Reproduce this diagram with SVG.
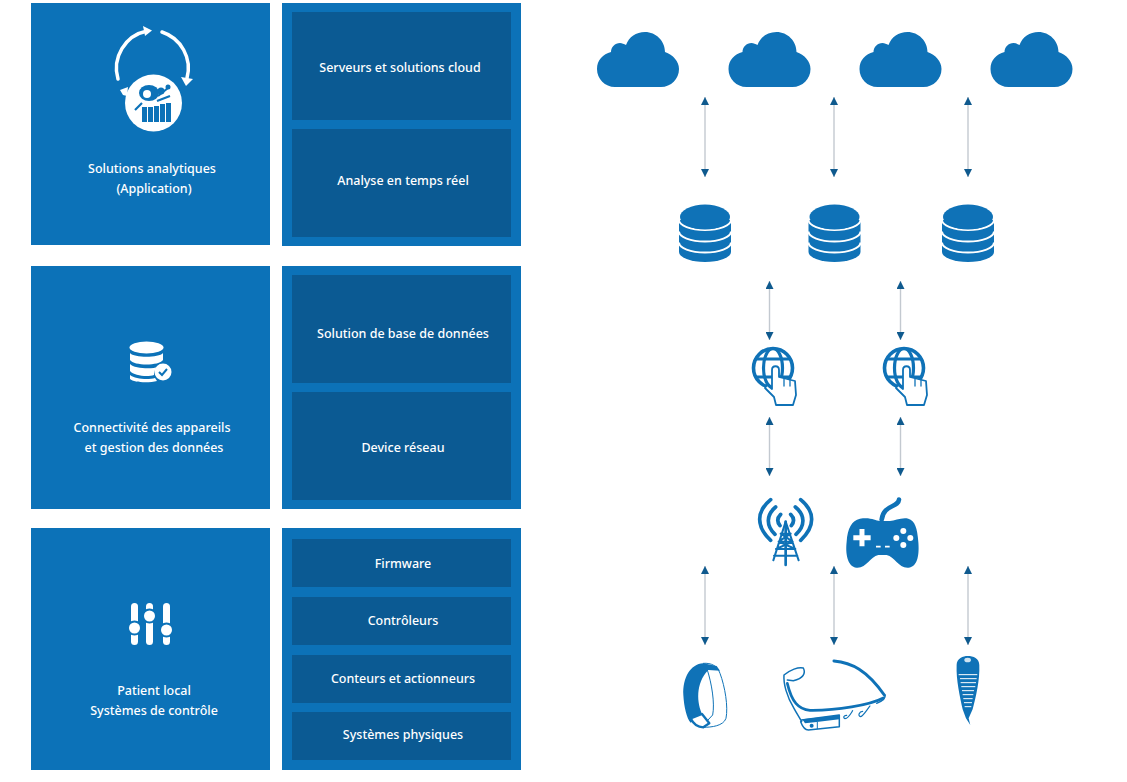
<svg xmlns="http://www.w3.org/2000/svg" width="1127" height="782" viewBox="0 0 1127 782">
<style>
.p{fill:#0c72b8}.i{fill:#0b5a93}
text{font-family:"Noto Sans","Liberation Sans",sans-serif;font-size:12.5px;font-weight:500;fill:#fff;text-anchor:middle}
.c line{stroke:#c3c9d0;stroke-width:1.4;marker-start:url(#ah);marker-end:url(#ah)}
.b{fill:#0f72b7}.o{fill:none;stroke:#0f72b7;stroke-linecap:round;stroke-linejoin:round}.w{fill:none;stroke:#fff;stroke-linecap:round}
</style>
<defs>
<marker id="ah" markerUnits="userSpaceOnUse" markerWidth="8" markerHeight="8" refX="8" refY="4" orient="auto-start-reverse"><path d="M0 0L8 4L0 8Z" fill="#0f5a8e"/></marker>
<path id="cloud" class="b" d="M18 55C8 55 0 47 0 37C0 28 6 22 14 20C14 15 18 11 23 11C25 11 27 12 29 13C32 5 39 0 48 0C59 0 68 9 68 20C76 23 82 29 82 37C82 47 74 55 64 55Z"/>
<g id="db">
<path class="b" d="M0 16V48A26 10 0 0 0 52 48V16Z"/>
<path d="M0 16A26 10 0 0 0 52 16M0 27.5A26 10 0 0 0 52 27.5M0 38.5A26 10 0 0 0 52 38.5" fill="none" stroke="#fff" stroke-width="2"/>
<ellipse class="b" cx="26" cy="13" rx="25" ry="12.5"/>
</g>
<g id="globe">
<circle class="o" cx="21" cy="21" r="19.5" stroke-width="3.600"/>
<ellipse class="o" cx="21" cy="21" rx="9.500" ry="19.500" stroke-width="3.200"/>
<path class="o" stroke-width="3.200" d="M4 12H38M4 30H38"/>
<path fill="#fff" stroke="#0f72b7" stroke-width="1.800" stroke-linejoin="round" d="M24 58L22 50L13 41L15 38L20 42V23C20 18 27 18 27 23V30L43 34L44 48L41 58Z"/>
<path class="o" stroke-width="1.300" d="M32 32V39M38 33V39"/>
</g>
</defs>

<g id="row1-left"><rect class="p" x="31" y="3" width="239" height="242"/>
<path class="w" stroke-width="3.500" d="M118 79A38 38 0 0 1 147 31"/><path fill="#fff" d="M152 30.500L143 26L145 36Z"/>
<path class="w" stroke-width="3.500" d="M162 32A38 38 0 0 1 187 78"/><path fill="#fff" d="M186 86L181 77L193 79Z"/>
<circle cx="153.500" cy="103" r="28.500" fill="#fff"/>
<path fill="#fff" d="M120 90L128 87L127 96L123 95Z"/>
<g class="p"><rect x="142" y="107" width="5" height="15"/><rect x="148" y="107" width="5" height="15"/><rect x="154" y="106" width="5" height="16"/><rect x="160" y="104" width="5" height="18"/><rect x="166" y="103" width="5" height="19"/>
<ellipse cx="149" cy="93" rx="10" ry="8"/><circle cx="161" cy="91" r="3.500"/><circle cx="168" cy="87" r="2.500"/></g>
<circle cx="147" cy="94" r="4" fill="#fff"/>
<path d="M158 96L168 88M135 110L142 103M157 101L170 96" stroke="#0c72b8" stroke-width="2.200" fill="none"/>
<text x="152" y="173">Solutions analytiques</text><text x="154" y="193">(Application)</text></g>

<g id="row1-right"><rect class="p" x="282" y="3" width="239" height="243"/><rect class="i" x="292" y="12" width="219" height="108"/><rect class="i" x="292" y="129" width="219" height="108"/>
<text x="400" y="72">Serveurs et solutions cloud</text><text x="403" y="185">Analyse en temps réel</text></g>

<g id="row2-left"><rect class="p" x="31" y="266" width="239" height="243"/>
<ellipse cx="146.500" cy="347.500" rx="17" ry="6" fill="#fff"/>
<path fill="#fff" d="M130 353C134 358 159 358 163 353V360C159 366 134 366 130 360ZM130 364C134 369 154 369 157 367C155 369 154 372 154 375C148 377 134 376 130 371ZM130 375C135 379 148 380 155 378L157 381C150 383 134 383 130 379Z"/>
<circle cx="163" cy="372" r="8.500" fill="#fff"/><path d="M159 372L162 375L167 369" fill="none" stroke="#0c72b8" stroke-width="2"/>
<text x="152" y="432">Connectivité des appareils</text><text x="154" y="452">et gestion des données</text></g>

<g id="row2-right"><rect class="p" x="282" y="266" width="239" height="243"/><rect class="i" x="292" y="275" width="219" height="108"/><rect class="i" x="292" y="392" width="219" height="108"/>
<text x="403" y="338">Solution de base de données</text><text x="403" y="452">Device réseau</text></g>

<g id="row3-left"><rect class="p" x="31" y="528" width="239" height="242"/>
<rect x="131" y="603" width="7" height="42" rx="3.500" fill="#fff"/><rect x="146" y="603" width="7" height="42" rx="3.500" fill="#fff"/><rect x="163" y="603" width="7" height="42" rx="3.500" fill="#fff"/>
<g fill="#fff" stroke="#0c72b8" stroke-width="2"><circle cx="134.500" cy="628" r="6.500"/><circle cx="149.500" cy="616" r="6.500"/><circle cx="166.500" cy="630" r="6.500"/></g>
<text x="154" y="695">Patient local</text><text x="154" y="715">Systèmes de contrôle</text></g>

<g id="row3-right"><rect class="p" x="282" y="528" width="239" height="242"/><rect class="i" x="292" y="539" width="219" height="48"/><rect class="i" x="292" y="597" width="219" height="48"/><rect class="i" x="292" y="655" width="219" height="48"/><rect class="i" x="292" y="712" width="219" height="48"/>
<text x="403" y="568">Firmware</text><text x="403" y="625">Contrôleurs</text><text x="403" y="683">Conteurs et actionneurs</text><text x="403" y="739">Systèmes physiques</text></g>

<g id="cloud1"><use href="#cloud" x="597" y="32"/></g><g id="cloud2"><use href="#cloud" x="728.500" y="32"/></g><g id="cloud3"><use href="#cloud" x="859.500" y="32"/></g><g id="cloud4"><use href="#cloud" x="990.500" y="32"/></g>
<g id="db1"><use href="#db" x="679" y="204"/></g><g id="db2"><use href="#db" x="808.500" y="204"/></g><g id="db3"><use href="#db" x="942" y="204"/></g>
<g id="globe1"><use href="#globe" x="752" y="347"/></g><g id="globe2"><use href="#globe" x="883" y="347"/></g>

<g id="tower"><g transform="translate(740 485) scale(.3333)">
<path class="o" stroke-width="11" d="M92 44C48 80 48 125 92 166M182 44C226 80 226 125 182 166M107 66C78 90 78 122 105 148M166 66C196 90 196 122 168 148M122 88C110 100 112 112 120 122M152 88C164 100 162 112 154 122"/>
<path class="o" stroke-width="6" d="M137 110L100 226M137 110L176 226M122 146H152M116 170H158M108 192H166M102 212L172 212M122 146L158 170M152 146L116 170M116 170L166 192M158 170L108 192"/>
<path class="o" stroke-width="8" d="M137 110V240"/>
</g></g>
<g id="gamepad"><g transform="translate(740 485) scale(.3333)">
<path class="o" stroke-width="14" d="M477 44C475 68 430 58 425 104"/>
<path class="b" d="M360 101C395 96 405 108 420 108H450C465 108 485 96 505 101C525 106 532 130 535 170C538 205 535 245 505 248C475 250 465 215 440 210H415C390 215 380 250 350 248C322 245 316 205 320 170C323 130 335 106 360 101Z"/>
<path d="M340 158H392M366 132V184" stroke="#fff" stroke-width="15" fill="none"/>
<path d="M408 185H422M435 185H449" stroke="#fff" stroke-width="5" fill="none"/>
<g fill="#fff"><circle cx="490" cy="138" r="9"/><circle cx="490" cy="180" r="9"/><circle cx="469" cy="159" r="9"/><circle cx="511" cy="159" r="9"/></g>
</g></g>

<g id="wristband"><g transform="translate(670 640) scale(.3333)">
<path class="b" d="M100 70C60 72 38 115 40 165C42 200 50 235 62 248L98 225C80 190 76 130 115 90L150 92L140 78Z"/>
<path class="o" stroke-width="3" d="M100 70C125 68 142 78 150 100C165 140 175 200 168 235C160 258 125 262 100 262M112 90C125 130 135 190 128 225L100 255"/>
<path fill="#fff" stroke="#0f72b7" stroke-width="7" stroke-linejoin="round" d="M62 235L96 222L118 250L100 262C85 262 70 252 62 235Z"/>
</g></g>
<g id="glasses"><g transform="translate(670 640) scale(.3333)">
<path class="o" stroke-width="9" d="M492 63C545 68 590 90 643 165"/>
<path class="o" stroke-width="8" d="M640 174C600 195 500 212 420 211C385 208 365 185 352 130"/>
<path class="o" stroke-width="4.500" d="M645 165C648 175 640 182 620 190M342 105C360 90 385 80 400 84C408 100 400 115 370 122L352 120M342 105C340 130 350 170 372 205C380 220 390 235 395 245"/>
<path class="o" stroke-width="4.500" d="M395 240L508 225V260L415 270C405 270 397 258 392 245"/>
<path class="b" d="M397 238L508 226V238L440 246L405 250Z"/><circle class="b" cx="425" cy="257" r="6"/><path class="o" stroke-width="3" d="M442 247V266"/>
<path class="o" stroke-width="3.500" d="M548 212C540 225 535 235 525 236C518 234 522 225 530 226M600 198C590 210 580 228 572 230C562 228 568 214 578 214"/>
</g></g>
<g id="implant"><g transform="translate(670 640) scale(.3333)">
<path class="b" d="M860 75C860 55 880 48 893 48C910 48 928 55 928 75C930 120 918 170 908 208L896 235L901 255L888 235L878 208C870 170 858 120 860 75Z"/>
<ellipse cx="893" cy="60" rx="10" ry="7" fill="#cfe3f1"/>
<path d="M866 104H922M870 116H920M872 128H918M874 140H916M876 152H912M878 164H910M880 176H908M882 188H906M884 200H904" stroke="#fff" stroke-width="3"/>
</g></g>

<g id="connectors" class="c">
<line x1="705" y1="97" x2="705" y2="177"/><line x1="834" y1="97" x2="834" y2="177"/><line x1="968" y1="97" x2="968" y2="177"/>
<line x1="769.500" y1="281" x2="769.500" y2="340"/><line x1="900.500" y1="281" x2="900.500" y2="340"/>
<line x1="769.500" y1="417" x2="769.500" y2="476"/><line x1="900.500" y1="417" x2="900.500" y2="476"/>
<line x1="705" y1="566" x2="705" y2="645"/><line x1="834" y1="566" x2="834" y2="645"/><line x1="968" y1="566" x2="968" y2="645"/>
</g>
</svg>
